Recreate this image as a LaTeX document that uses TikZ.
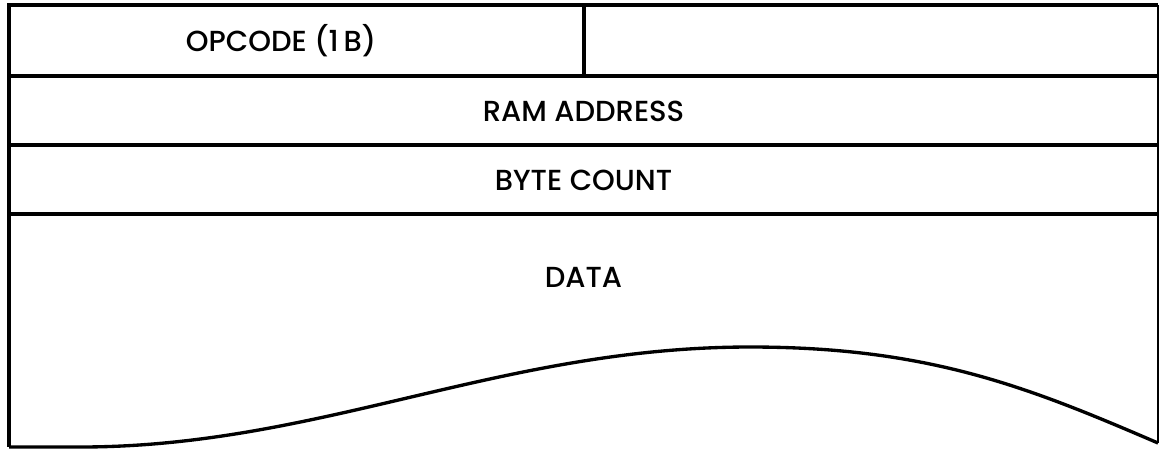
\documentclass[tikz,border=0pt]{standalone}
\usepackage{fontspec}
\setmainfont{Poppins}[UprightFont=* Medium]
\usetikzlibrary{calc}

\begin{document}
\begin{tikzpicture}[x=0.02cm,y=-0.02cm]

% --- Geometry settings (in pixels of the original sheet) ---
\def\xL{9}        % left edge
\def\xR{1158}     % right edge
\def\xS{584}      % split of the opcode row
\def\yA{5}        % top
\def\yB{76}       % below opcode row
\def\yC{145}      % below ram address
\def\yD{214}      % below byte count
\def\yE{447}      % bottom of data

\tikzset{
  frame/.style={line width=1.9pt},
  thinframe/.style={line width=0.6pt},
  field/.style={inner sep=0pt, font=\fontsize{16.5}{18}\selectfont},
}

\useasboundingbox (0,0) rectangle (1159,451);

% --- Outer frame and row dividers ---
\draw[frame] (\xR,\yA) -- (\xL,\yA) -- (\xL,\yE);
\draw[thinframe] (\xR,\yA) -- (\xR,443);
\foreach \y in {\yB,\yC,\yD} {
  \draw[frame] (\xL,\y) -- (\xR,\y);
}
\draw[frame] (\xS,\yA) -- (\xS,\yB);

% --- Torn bottom edge of the data area ---
\draw[frame] (\xL,\yE) -- (80,\yE)
  .. controls (320,447) and (500,347) .. (750,347)
  .. controls (930,347) and (1030,388) .. (1158,443);

% --- Field labels ---
\node[field] (opcode) at (281,41) {OPCODE (1\,B)};
\node[field] (ramaddr) at ({(\xL+\xR)/2},111) {RAM ADDRESS};
\node[field] (bytecnt) at ({(\xL+\xR)/2},180) {BYTE COUNT};
\node[field] (data) at ({(\xL+\xR)/2},277) {DATA};

\end{tikzpicture}
\end{document}
